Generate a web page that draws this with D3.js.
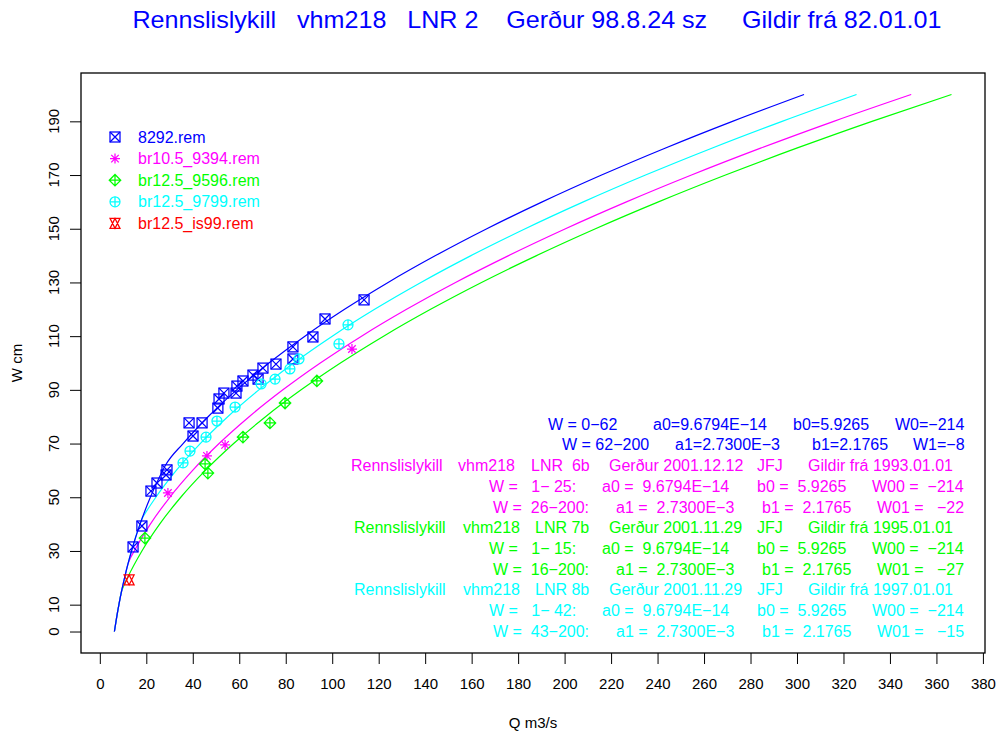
<!DOCTYPE html>
<html>
<head>
<meta charset="utf-8">
<script src="https://cdn.jsdelivr.net/npm/d3@7"></script>
<style>
  body { margin: 0; background: #fff; }
  text { font-family: "Liberation Sans", Arial, sans-serif; white-space: pre; }
</style>
</head>
<body>
<script>
// Rating curves (Q m3/s against W cm) and measured points, vhm218

const width = 999;
const height = 733;

// rating curves
const curveW_8292 = [0, 5, 10, 15, 20, 25, 30, 35, 40, 45, 50, 55, 62, 70, 80, 90, 100, 110, 120, 130, 140, 150, 160, 170, 180, 190, 200];
const curveQ_8292 = [6.27, 7.19, 8.21, 9.36, 10.64, 12.06, 13.64, 15.38, 17.30, 19.42, 21.75, 24.31, 28.31, 35.83, 46.59, 58.90, 72.77, 88.24, 105.32, 124.05, 144.47, 166.53, 190.38, 215.91, 243.19, 272.23, 303.03];

const curveW_6b = [0, 5, 10, 15, 20, 25, 26, 30, 40, 50, 60, 70, 80, 90, 100, 110, 120, 130, 140, 150, 160, 170, 180, 190, 200];
const curveQ_6b = [6.27, 7.19, 8.21, 9.36, 10.64, 12.06, 12.46, 14.83, 21.74, 30.11, 39.95, 51.32, 64.25, 78.78, 94.87, 112.62, 132.01, 153.07, 175.89, 200.38, 226.61, 254.60, 284.34, 315.82, 349.15];

const curveW_7b = [0, 5, 10, 15, 16, 20, 30, 40, 50, 60, 70, 80, 90, 100, 110, 120, 130, 140, 150, 160, 170, 180, 190, 200];
const curveQ_7b = [6.27, 7.19, 8.21, 9.36, 9.80, 11.90, 18.11, 25.74, 34.84, 45.44, 57.59, 71.31, 86.62, 103.54, 122.10, 142.34, 164.24, 187.92, 213.28, 240.38, 269.24, 299.87, 332.26, 366.49];

const curveW_8b = [0, 5, 10, 15, 20, 25, 30, 35, 40, 42, 43, 50, 60, 70, 80, 90, 100, 110, 120, 130, 140, 150, 160, 170, 180, 190, 200];
const curveQ_8b = [6.27, 7.19, 8.21, 9.36, 10.64, 12.06, 13.64, 15.38, 17.30, 18.13, 18.80, 24.10, 32.90, 43.20, 55.04, 68.44, 83.44, 100.02, 118.26, 138.16, 159.72, 183.06, 208.07, 234.82, 263.33, 293.60, 325.63];

// measurements
const ptsQ_8292 = [14.3, 18.1, 22.0, 24.6, 28.5, 28.9, 38.4, 40.1, 44.0, 50.8, 51.3, 53.4, 58.6, 59.0, 61.6, 65.9, 68.1, 70.2, 75.8, 83.1, 83.1, 91.7, 96.9, 113.7];
const ptsW_8292 = [31.5, 39.3, 52.3, 55.3, 58.3, 60.2, 77.7, 72.8, 77.7, 83.2, 86.6, 88.8, 88.8, 91.4, 93.3, 95.5, 94.0, 98.1, 99.6, 101.5, 106.0, 109.7, 116.4, 123.5];
const ptsQ_9394 = [29.3, 46.1, 53.9, 108.5];
const ptsW_9394 = [51.6, 65.4, 69.5, 105.2];
const ptsQ_9596 = [19.4, 45.3, 46.5, 61.6, 73.2, 79.7, 93.4];
const ptsW_9596 = [34.8, 62.4, 59.0, 72.4, 77.7, 85.1, 93.3];
const ptsQ_9799 = [35.8, 38.8, 45.7, 50.4, 58.2, 69.4, 75.4, 81.8, 85.7, 102.9, 106.8];
const ptsW_9799 = [62.8, 67.2, 72.4, 78.4, 83.6, 92.2, 94.0, 97.8, 101.5, 107.1, 114.2];
const ptsQ_is99 = [12.6];
const ptsW_is99 = [19.2];

const legendNames = ["8292.rem", "br10.5_9394.rem", "br12.5_9596.rem", "br12.5_9799.rem", "br12.5_is99.rem"];
const legendColors = ["#0000ff", "#ff00ff", "#00ff00", "#00ffff", "#ff0000"];
const legendShapes = ["boxx", "star", "diamondplus", "circleplus", "triangles"];

const xTicks = d3.range(0, 381, 20);
const yTicks = [0, 10, 30, 50, 70, 90, 110, 130, 150, 170, 190];

const titleText = "Rennslislykill   vhm218   LNR 2    Gerður 98.8.24 sz     Gildir frá 82.01.01";

const svg = d3.select("body").append("svg")
    .attr("width", width)
    .attr("height", height);

const x = d3.scaleLinear().domain([-8.1, 380.9]).range([81, 985]);
const y = d3.scaleLinear().domain([-8, 208]).range([653, 73]);

// title
svg.append("text")
    .attr("x", 537).attr("y", 28)
    .attr("text-anchor", "middle")
    .attr("font-size", 24)
    .attr("fill", "#0000ff")
    .attr("textLength", 809)
    .attr("lengthAdjust", "spacingAndGlyphs")
    .text(titleText);

// axes
const xAxis = svg.append("g")
    .attr("transform", "translate(0,653)")
    .call(d3.axisBottom(x).tickValues(xTicks).tickSize(11).tickPadding(14));
xAxis.select(".domain").remove();
xAxis.selectAll("text").attr("font-size", 15).attr("font-family", "Liberation Sans, Arial, sans-serif");

const yAxis = svg.append("g")
    .attr("transform", "translate(81,0)")
    .call(d3.axisLeft(y).tickValues(yTicks).tickSize(11).tickFormat(""));
yAxis.select(".domain").remove();

svg.append("g").selectAll("text")
    .data(yTicks)
    .join("text")
    .attr("transform", d => `translate(59,${y(d)}) rotate(-90)`)
    .attr("text-anchor", "middle")
    .attr("font-size", 15)
    .text(d => d);

// box
svg.append("rect")
    .attr("x", 81).attr("y", 73)
    .attr("width", 904).attr("height", 580)
    .attr("fill", "none")
    .attr("stroke", "#000")
    .attr("stroke-width", 1.3);

// axis titles
svg.append("text")
    .attr("x", 533).attr("y", 728)
    .attr("text-anchor", "middle")
    .attr("font-size", 15)
    .text("Q m3/s");
svg.append("text")
    .attr("transform", "translate(22,363) rotate(-90)")
    .attr("text-anchor", "middle")
    .attr("font-size", 15)
    .text("W cm");

// curves
const line = d3.line()
    .x(d => x(d[0]))
    .y(d => y(d[1]))
    .curve(d3.curveMonotoneX);

const curves = [
    [curveQ_8292, curveW_8292, legendColors[0]],
    [curveQ_6b, curveW_6b, legendColors[1]],
    [curveQ_7b, curveW_7b, legendColors[2]],
    [curveQ_8b, curveW_8b, legendColors[3]]
];
// green first so blue ends up on top like the original
[2, 1, 3, 0].forEach(i => {
    const [qs, ws, col] = curves[i];
    svg.append("path")
        .datum(qs.map((q, k) => [q, ws[k]]))
        .attr("fill", "none")
        .attr("stroke", col)
        .attr("stroke-width", 1.2)
        .attr("d", line);
});

function symbol(g, shape, cx, cy, col) {
    const r = 5;
    const s = g.append("g")
        .attr("fill", "none")
        .attr("stroke", col)
        .attr("stroke-width", 1.25);
    if (shape === "boxx") {
        s.append("rect").attr("x", cx - r).attr("y", cy - r).attr("width", 2 * r).attr("height", 2 * r);
        s.append("path").attr("d", `M${cx - r},${cy - r}L${cx + r},${cy + r}M${cx - r},${cy + r}L${cx + r},${cy - r}`);
    } else if (shape === "star") {
        const d = r * 0.75;
        s.append("path").attr("d",
            `M${cx - r},${cy}L${cx + r},${cy}M${cx},${cy - r}L${cx},${cy + r}` +
            `M${cx - d},${cy - d}L${cx + d},${cy + d}M${cx - d},${cy + d}L${cx + d},${cy - d}`);
    } else if (shape === "diamondplus") {
        const d = r * 1.15;
        s.append("path").attr("d",
            `M${cx - d},${cy}L${cx},${cy - d}L${cx + d},${cy}L${cx},${cy + d}Z` +
            `M${cx - d},${cy}L${cx + d},${cy}M${cx},${cy - d}L${cx},${cy + d}`);
    } else if (shape === "circleplus") {
        s.append("circle").attr("cx", cx).attr("cy", cy).attr("r", r);
        s.append("path").attr("d", `M${cx - r},${cy}L${cx + r},${cy}M${cx},${cy - r}L${cx},${cy + r}`);
    } else {
        s.append("path").attr("d",
            `M${cx - r},${cy + r}L${cx + r},${cy + r}L${cx},${cy - r}Z` +
            `M${cx - r},${cy - r}L${cx + r},${cy - r}L${cx},${cy + r}Z`);
    }
}

// points
const pointSets = [
    [ptsQ_8292, ptsW_8292],
    [ptsQ_9394, ptsW_9394],
    [ptsQ_9596, ptsW_9596],
    [ptsQ_9799, ptsW_9799],
    [ptsQ_is99, ptsW_is99]
];
const gPts = svg.append("g");
pointSets.forEach(([qs, ws], i) => {
    qs.forEach((q, k) => symbol(gPts, legendShapes[i], x(q), y(ws[k]), legendColors[i]));
});

// legend
const gLeg = svg.append("g");
legendNames.forEach((name, i) => {
    const cy = 137 + i * 21.6;
    symbol(gLeg, legendShapes[i], 115, cy, legendColors[i]);
    gLeg.append("text")
        .attr("x", 138).attr("y", cy + 5.6)
        .attr("font-size", 16)
        .attr("fill", legendColors[i])
        .text(name);
});

// curve equations, one row per line, fields placed at their start x
const noteRows = [
    [legendColors[0], [[548, "W = 0−62"], [653, "a0=9.6794E−14"], [793, "b0=5.9265"], [895, "W0=−214"]]],
    [legendColors[0], [[562, "W = 62−200"], [675, "a1=2.7300E−3"], [812, "b1=2.1765"], [913, "W1=−8"]]],
    [legendColors[1], [[351, "Rennslislykill"], [458, "vhm218"], [531, "LNR  6b"], [609, "Gerður 2001.12.12"], [757, "JFJ"], [808, "Gildir frá 1993.01.01"]]],
    [legendColors[1], [[489, "W =   1− 25:"], [602, "a0 =  9.6794E−14"], [757, "b0 =  5.9265"], [872, "W00 =  −214"]]],
    [legendColors[1], [[493, "W =  26−200:"], [616, "a1 =  2.7300E−3"], [762, "b1 =  2.1765"], [877, "W01 =   −22"]]],
    [legendColors[2], [[354, "Rennslislykill"], [463, "vhm218"], [535, "LNR 7b"], [609, "Gerður 2001.11.29"], [757, "JFJ"], [808, "Gildir frá 1995.01.01"]]],
    [legendColors[2], [[489, "W =   1− 15:"], [602, "a0 =  9.6794E−14"], [757, "b0 =  5.9265"], [872, "W00 =  −214"]]],
    [legendColors[2], [[493, "W =  16−200:"], [616, "a1 =  2.7300E−3"], [762, "b1 =  2.1765"], [877, "W01 =   −27"]]],
    [legendColors[3], [[354, "Rennslislykill"], [463, "vhm218"], [535, "LNR 8b"], [609, "Gerður 2001.11.29"], [757, "JFJ"], [808, "Gildir frá 1997.01.01"]]],
    [legendColors[3], [[489, "W =   1− 42:"], [602, "a0 =  9.6794E−14"], [757, "b0 =  5.9265"], [872, "W00 =  −214"]]],
    [legendColors[3], [[493, "W =  43−200:"], [616, "a1 =  2.7300E−3"], [762, "b1 =  2.1765"], [877, "W01 =   −15"]]]
];
const gNotes = svg.append("g");
noteRows.forEach(([col, fields], i) => {
    const by = 424 + i * 20.7 + 5.7;
    fields.forEach(([fx, str]) => {
        gNotes.append("text")
            .attr("x", fx).attr("y", by)
            .attr("font-size", 16)
            .attr("fill", col)
            .text(str);
    });
});
</script>
</body>
</html>
